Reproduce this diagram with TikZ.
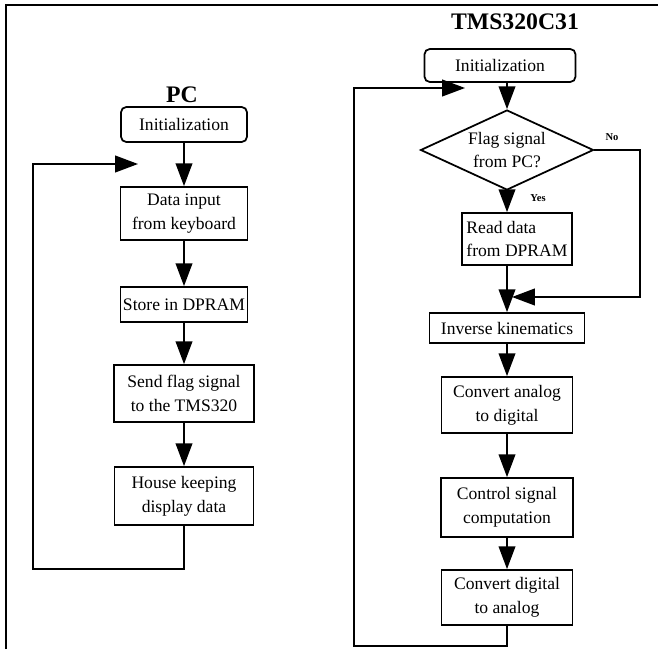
\documentclass[tikz,border=0pt]{standalone}
\usepackage{fontspec}
\setmainfont{Liberation Serif}
\usetikzlibrary{shapes.geometric,arrows.meta}
\begin{document}
\begin{tikzpicture}[x=0.02cm,y=-0.02cm,
  box/.style={draw,line width=1pt,align=center,inner sep=1pt,font=\fontsize{10}{13.5}\selectfont},
  flow/.style={draw,line width=1pt,-{Triangle[length=13pt,width=9.5pt]}},
  title/.style={font=\fontsize{13.5}{15}\selectfont\bfseries},
  tag/.style={font=\fontsize{6}{7}\selectfont\bfseries}]
\useasboundingbox (0,0) rectangle (658,649);
\path[draw,line width=0.7pt] (6,649) -- (6,5) -- (658,5);

% PC side
\node[title] (pc) at (182,95) {PC};
\node[box,rounded corners=3pt,minimum width=2.52cm,minimum height=0.70cm] (p1) at (184,124.5) {Initialization};
\node[box,minimum width=2.54cm,minimum height=1.06cm] (p2) at (184,213.5) {Data input\\from keyboard};
\node[box,minimum width=2.54cm,minimum height=0.70cm] (p3) at (184,304.5) {Store in DPRAM};
\node[box,minimum width=2.80cm,minimum height=1.14cm] (p4) at (184,393.5) {Send flag signal\\to the TMS320};
\node[box,minimum width=2.78cm,minimum height=1.16cm] (p5) at (184,496) {House keeping\\display data};
\coordinate (pin) at (138,164);
\path[flow] (p1) -- (p2);
\path[flow] (p2) -- (p3);
\path[flow] (p3) -- (p4);
\path[flow] (p4) -- (p5);
\path[flow] (p5.south) -- ++(0,43) -| (33,164) -- (pin);

% DSP side
\node[title] (dsp) at (515,22) {TMS320C31};
\node[box,rounded corners=3pt,minimum width=3.02cm,minimum height=0.66cm] (t1) at (500,65.5) {Initialization};
\node[draw,diamond,line width=1pt,align=center,inner sep=0pt,shape aspect=2.16,
      minimum width=3.46cm,minimum height=1.60cm,font=\fontsize{10}{13.5}\selectfont] (t2) at (507,150) {Flag signal\\from PC?};
\node[box,align=left,minimum width=2.20cm,minimum height=1.04cm] (t3) at (517,239) {Read data\\from DPRAM};
\node[box,minimum width=3.10cm,minimum height=0.60cm] (t4) at (507,328) {Inverse kinematics};
\node[box,minimum width=2.62cm,minimum height=1.12cm] (t5) at (507,405) {Convert analog\\to digital};
\node[box,minimum width=2.64cm,minimum height=1.18cm] (t6) at (507,507.5) {Control signal\\computation};
\node[box,minimum width=2.62cm,minimum height=1.10cm] (t7) at (507,597.5) {Convert digital\\to analog};
\node[tag] (no) at (612,137) {No};
\node[tag] (yes) at (538,198) {Yes};
\coordinate (tin) at (465,88);
\coordinate (tno) at (512,297);
\path[flow] (t2.north |- t1.south) -- (t2.north);
\path[flow] (t2.south) -- (t2.south |- t3.north);
\path[flow] (t2.south |- t3.south) -- (t4.north);
\path[flow] (t2.east) -- ++(46,0) |- (tno);
\path[flow] (t4) -- (t5);
\path[flow] (t5) -- (t6);
\path[flow] (t6) -- (t7);
\path[flow] (t7.south) -- ++(0,20) -| (354,88) -- (tin);
\end{tikzpicture}
\end{document}
